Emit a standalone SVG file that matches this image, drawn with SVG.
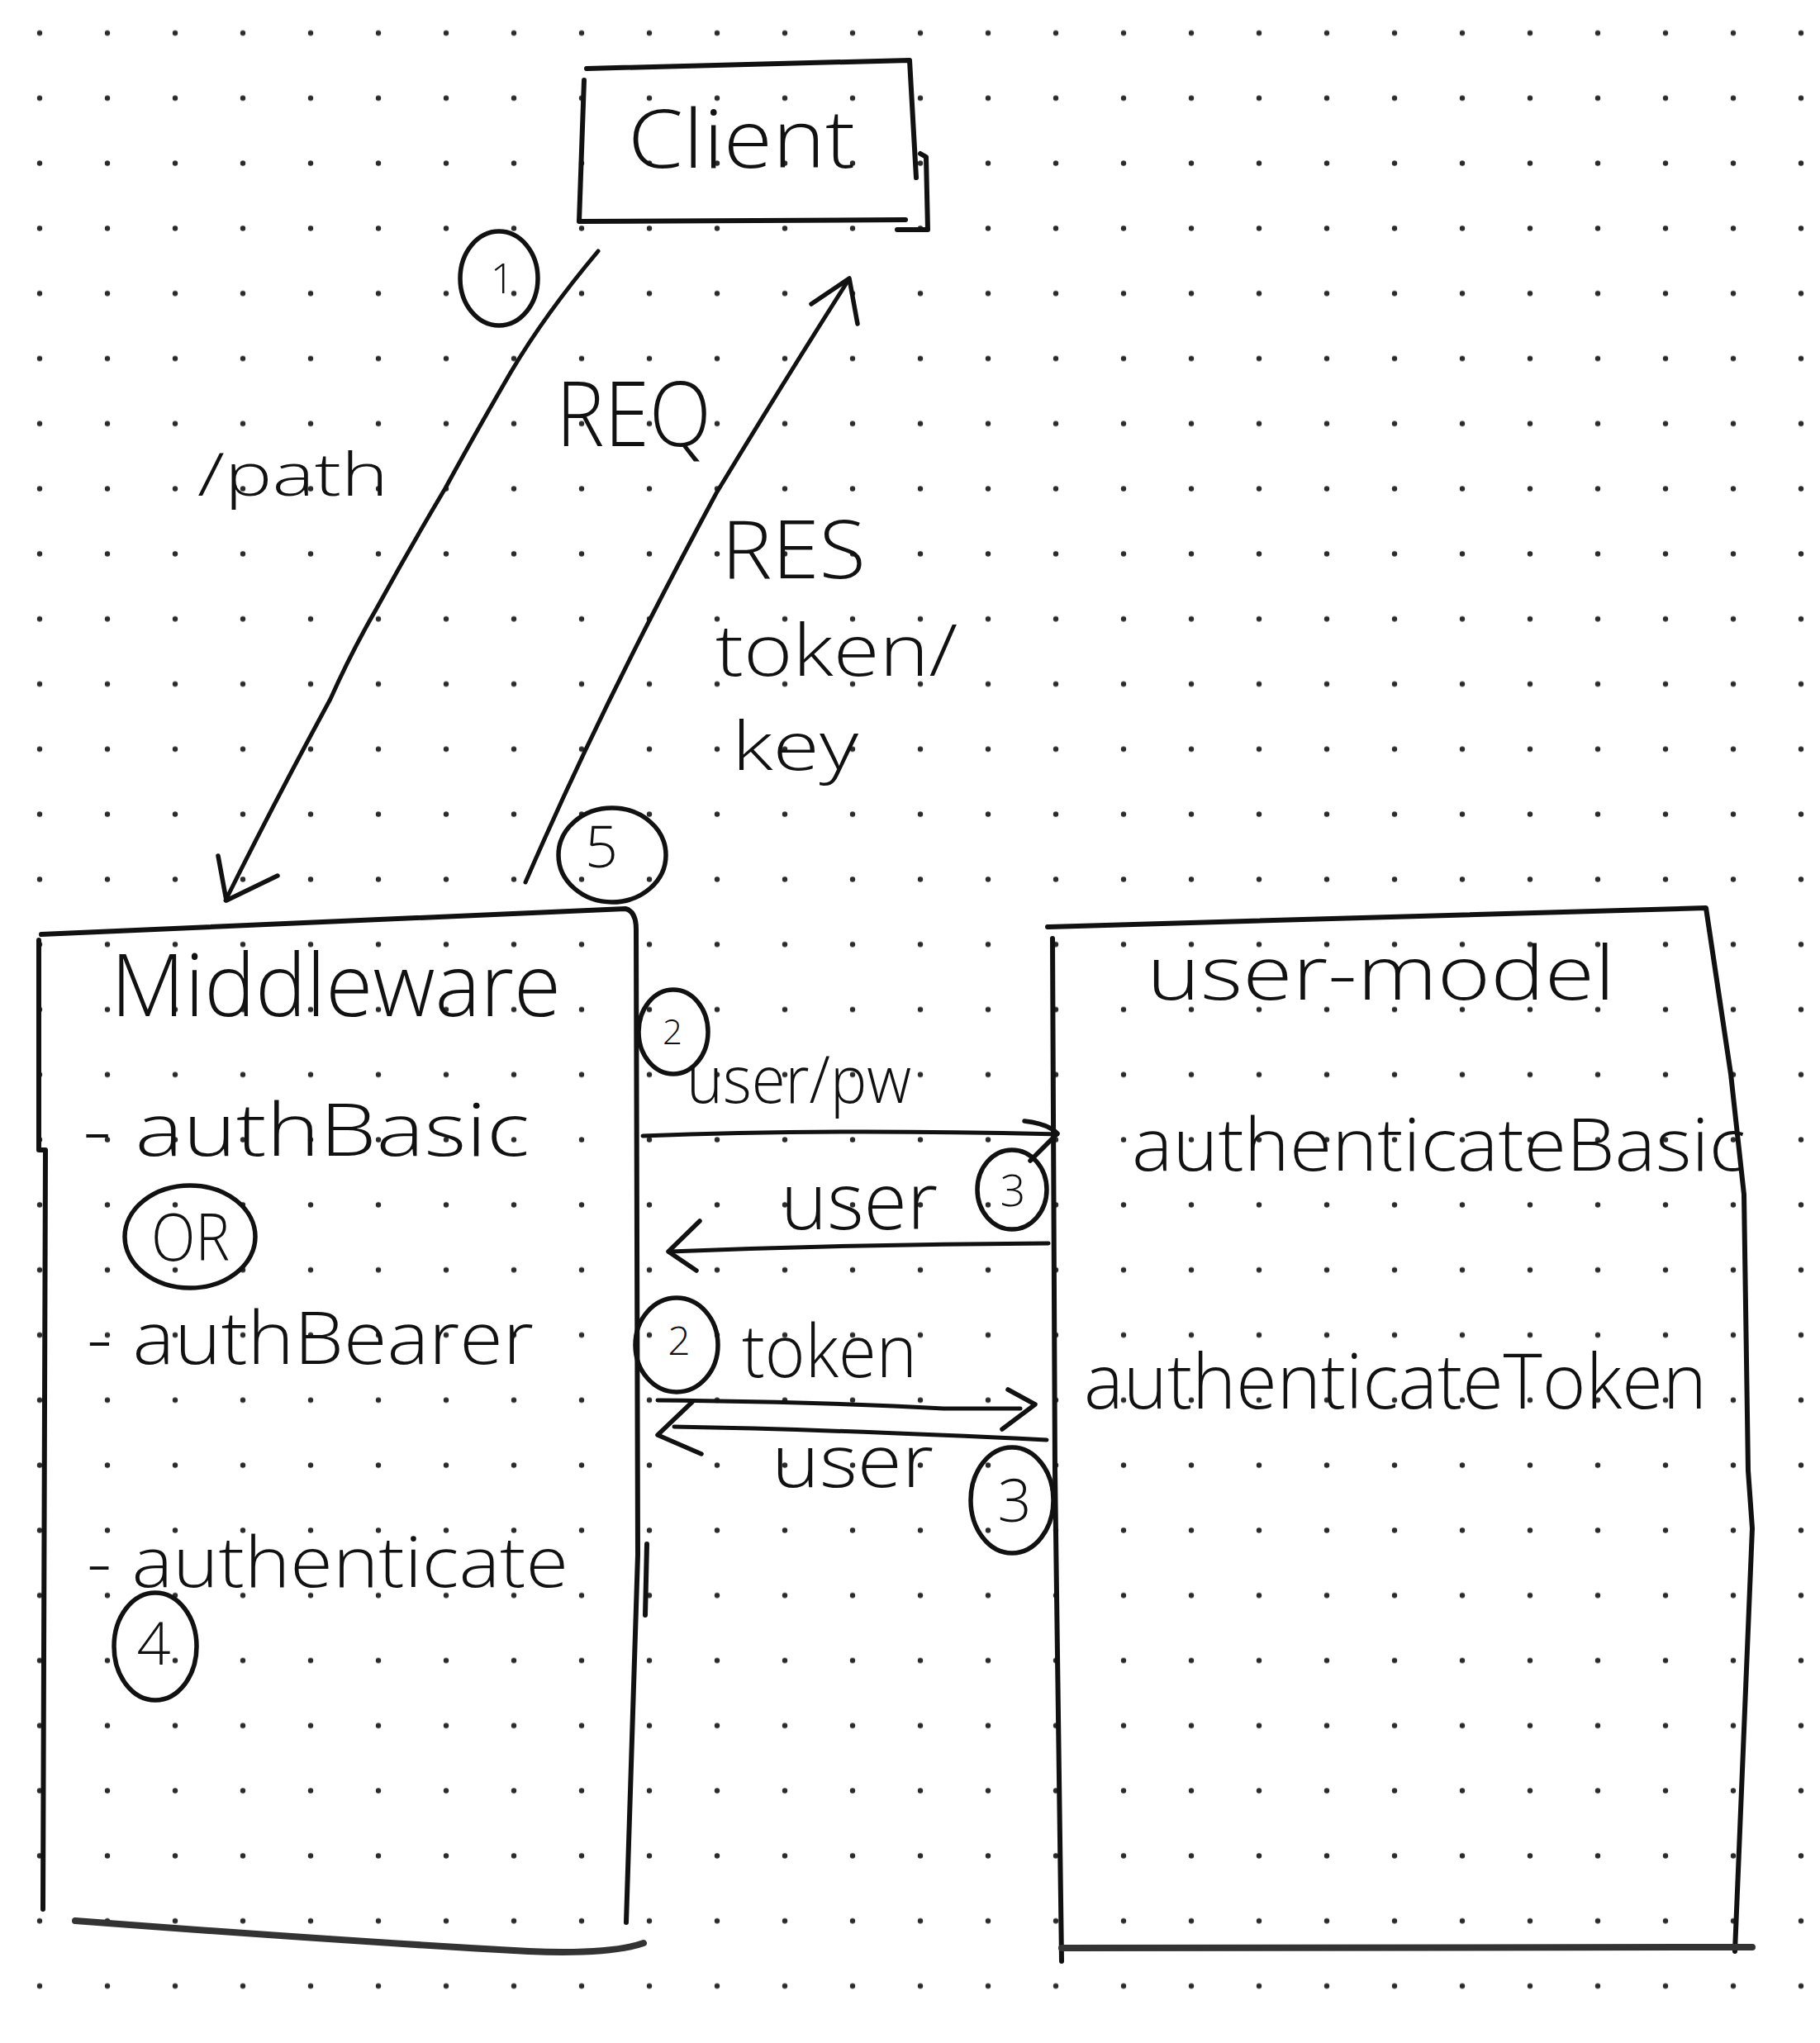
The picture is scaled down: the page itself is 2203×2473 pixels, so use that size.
<svg xmlns="http://www.w3.org/2000/svg" width="2203" height="2473" viewBox="0 0 2203 2473">
<style>
.hw{font-family:"Open Sans","Liberation Sans","DejaVu Sans",sans-serif;font-weight:300;fill:#111;}
.num{font-family:"Open Sans","Liberation Sans","DejaVu Sans",sans-serif;font-weight:300;fill:#111;text-anchor:middle;}
.box{fill:none;stroke:#111;stroke-width:6;stroke-linecap:round;stroke-linejoin:round;}
.base{fill:none;stroke:#333;stroke-width:8;stroke-linecap:round;}
.ring{fill:none;stroke:#111;stroke-width:5.5;}
.line{fill:none;stroke:#111;stroke-width:5;stroke-linecap:round;stroke-linejoin:round;}
.head{fill:none;stroke:#111;stroke-width:5.5;stroke-linecap:round;stroke-linejoin:round;}
</style>
<defs>
<pattern id="dots" patternUnits="userSpaceOnUse" x="7" y="0.6" width="82" height="78.8">
<circle cx="41" cy="39.4" r="3.2" fill="#2a2a2a"/>
</pattern>
</defs>
<rect width="2203" height="2473" fill="#ffffff"/>
<rect width="2203" height="2473" fill="url(#dots)"/>

<g id="client">
<path class="box" d="M710,83 L1101,73 L1109,215 M1114,186 L1121,190 L1123,278 L1086,278 M707,97 L701,268 L1096,266"/>
<text class="hw" x="760" y="203" font-size="98" textLength="275" lengthAdjust="spacingAndGlyphs">Client</text>
</g>

<g id="middleware">
<path class="box" d="M50,1131 L757,1100 Q770,1103 770,1125 L772,1882 L758,2327 M47,1138 L47,1392 L55,1392 L52,2311 M783,1869 L781,1955"/>
<path class="base" d="M91,2325 Q420,2350 640,2362 Q740,2366 779,2352"/>
<text class="hw" x="134" y="1230" font-size="105" textLength="545" lengthAdjust="spacingAndGlyphs">Middleware</text>
<text class="hw" x="100" y="1399" font-size="88" textLength="541" lengthAdjust="spacingAndGlyphs">- authBasic</text>
<ellipse class="ring" cx="230" cy="1497" rx="79" ry="62"/>
<text class="hw" x="183" y="1526" font-size="80" textLength="95" lengthAdjust="spacingAndGlyphs">OR</text>
<text class="hw" x="105" y="1651" font-size="88" textLength="541" lengthAdjust="spacingAndGlyphs">- authBearer</text>
<text class="hw" x="105" y="1921" font-size="85" textLength="583" lengthAdjust="spacingAndGlyphs">- authenticate</text>
<ellipse class="ring" cx="188" cy="1993" rx="50" ry="65"/>
<text class="num" x="186" y="2015" font-size="72">4</text>
</g>

<g id="user-model">
<path class="box" d="M1268,1122 L2065,1099 L2095,1300 L2111,1446 L2116,1780 L2121,1850 L2100,2362 M1274,1136 L1277,1780 L1285,2374"/>
<path class="base" d="M1285,2358 L2121,2357"/>
<text class="hw" x="1388" y="1210" font-size="90" textLength="567" lengthAdjust="spacingAndGlyphs">user-model</text>
<text class="hw" x="1370" y="1417" font-size="88" textLength="743" lengthAdjust="spacingAndGlyphs">authenticateBasic</text>
<text class="hw" x="1312" y="1705" font-size="92" textLength="754" lengthAdjust="spacingAndGlyphs">authenticateToken</text>
</g>

<g id="connectors">
<path class="line" d="M724,304 Q660,380 618,451 Q575,525 539,591 Q495,665 455,738 Q425,790 400,846 Q330,975 273,1090"/>
<path class="head" d="M264,1036 L274,1090 L336,1060"/>
<path class="line" d="M636,1068 Q700,920 782,759 Q825,675 867,597 Q950,460 1027,339"/>
<path class="head" d="M982,368 L1028,337 L1038,392"/>
<path class="line" d="M778,1375 Q1000,1366 1280,1373"/>
<path class="head" d="M1240,1357 Q1268,1360 1280,1372 L1247,1405"/>
<path class="line" d="M1269,1505 Q1040,1506 811,1515"/>
<path class="head" d="M847,1478 L809,1515 L843,1538"/>
<path class="line" d="M796,1695 Q1000,1697 1142,1705 L1235,1705"/>
<path class="head" d="M1220,1682 L1253,1700 L1213,1730"/>
<path class="line" d="M1267,1743 Q1000,1730 816,1727"/>
<path class="head" d="M838,1697 L796,1737 L849,1760"/>
</g>

<g id="labels">
<ellipse class="ring" cx="604" cy="337" rx="47" ry="57"/>
<text class="num" x="608" y="355" font-size="50">1</text>
<text class="hw" x="239" y="600" font-size="72" textLength="231" lengthAdjust="spacingAndGlyphs">/path</text>
<text class="hw" x="673" y="540" font-size="108" textLength="188" lengthAdjust="spacingAndGlyphs">REQ</text>
<text class="hw" x="873" y="700" font-size="98" textLength="175" lengthAdjust="spacingAndGlyphs">RES</text>
<text class="hw" x="866" y="818" font-size="86" textLength="293" lengthAdjust="spacingAndGlyphs">token/</text>
<text class="hw" x="886" y="932" font-size="82" textLength="153" lengthAdjust="spacingAndGlyphs">key</text>
<ellipse class="ring" cx="741" cy="1035" rx="65" ry="57"/>
<text class="num" x="728" y="1050" font-size="70">5</text>
<ellipse class="ring" cx="815" cy="1249" rx="42" ry="51"/>
<text class="num" x="814" y="1264" font-size="42">2</text>
<text class="hw" x="831" y="1335" font-size="80" textLength="272" lengthAdjust="spacingAndGlyphs">user/pw</text>
<text class="hw" x="945" y="1488" font-size="95" textLength="190" lengthAdjust="spacingAndGlyphs">user</text>
<ellipse class="ring" cx="1225" cy="1440" rx="42" ry="48"/>
<text class="num" x="1226" y="1460" font-size="54">3</text>
<ellipse class="ring" cx="819" cy="1628" rx="50" ry="57"/>
<text class="num" x="822" y="1640" font-size="48">2</text>
<text class="hw" x="898" y="1667" font-size="88" textLength="212" lengthAdjust="spacingAndGlyphs">token</text>
<text class="hw" x="934" y="1800" font-size="88" textLength="196" lengthAdjust="spacingAndGlyphs">user</text>
<ellipse class="ring" cx="1225" cy="1816" rx="50" ry="64"/>
<text class="num" x="1228" y="1842" font-size="72">3</text>
</g>
</svg>
